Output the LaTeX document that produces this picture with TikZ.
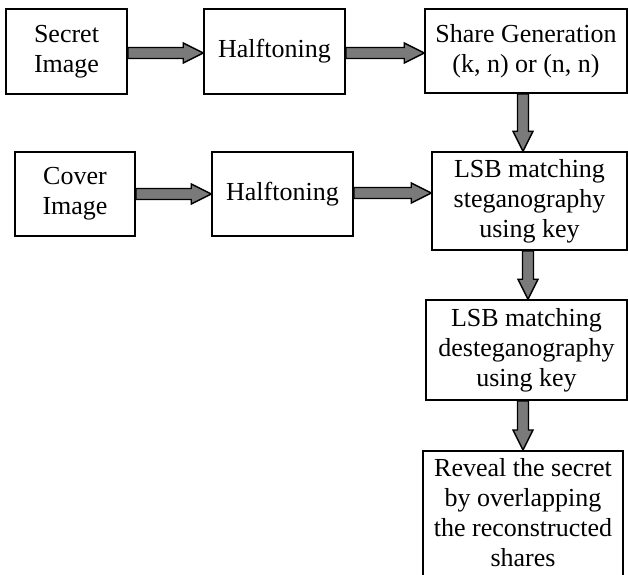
\documentclass[tikz,border=0pt]{standalone}
\usepackage{fontspec}
\setmainfont{Liberation Serif}
\usetikzlibrary{calc}
\definecolor{arrowgray}{HTML}{7A7A7A}
\tikzset{
  box/.style={draw=black, line width=1.6pt, align=center,
    font=\fontsize{26}{30}\selectfont, inner sep=0pt},
  barrow/.style={draw=black, fill=arrowgray, line width=1.4pt, line join=miter},
}
\newcommand\harrow[3]{%
  \draw[barrow] let \p1=(#1.east), \p2=(#2.west), \p3=(0,#3) in
    (\x1,\y3+5.5pt) -- (\x2-20pt,\y3+5.5pt) -- (\x2-20pt,\y3+10pt) -- (\x2,\y3)
    -- (\x2-20pt,\y3-10pt) -- (\x2-20pt,\y3-5.5pt) -- (\x1,\y3-5.5pt) -- cycle;}
\newcommand\varrow[3]{%
  \draw[barrow] let \p1=(#1.south), \p2=(#2.north), \p3=(#3,0) in
    (\x3-5.5pt,\y1) -- (\x3-5.5pt,\y2+20pt) -- (\x3-10pt,\y2+20pt) -- (\x3,\y2)
    -- (\x3+10pt,\y2+20pt) -- (\x3+5.5pt,\y2+20pt) -- (\x3+5.5pt,\y1) -- cycle;}
\begin{document}
\begin{tikzpicture}[x=1pt,y=-1pt]
\useasboundingbox (0,0) rectangle (628,574);
\begin{scope}
\clip (0,0) rectangle (628,574);
\node[box, minimum width=121pt, minimum height=85pt] (secret) at (66.5,51.5) {Secret\\Image};
\node[box, minimum width=141pt, minimum height=85pt] (half1) at (274.5,51.5) {Halftoning};
\node[box, minimum width=202pt, minimum height=84pt] (share) at (526,51) {Share Generation\\(k, n) or (n, n)};
\node[box, minimum width=120pt, minimum height=84pt] (cover) at (75,194) {Cover\\Image};
\node[box, minimum width=141pt, minimum height=84pt] (half2) at (282.5,194) {Halftoning};
\node[box, minimum width=195pt, minimum height=98pt] (lsb) at (529.5,201) {LSB matching\\steganography\\using key};
\node[box, minimum width=201pt, minimum height=100pt] (deste) at (526.5,350) {LSB matching\\desteganography\\using key};
\node[box, minimum width=200pt, inner ysep=8pt, text depth=24pt, anchor=north] (reveal) at (523,450) {Reveal the secret\\by overlapping\\the reconstructed\\shares};
\harrow{secret}{half1}{53}
\harrow{half1}{share}{53}
\harrow{cover}{half2}{194}
\harrow{half2}{lsb}{193}
\varrow{share}{lsb}{523}
\varrow{lsb}{deste}{528}
\varrow{deste}{reveal}{523}
\end{scope}
\end{tikzpicture}
\end{document}
